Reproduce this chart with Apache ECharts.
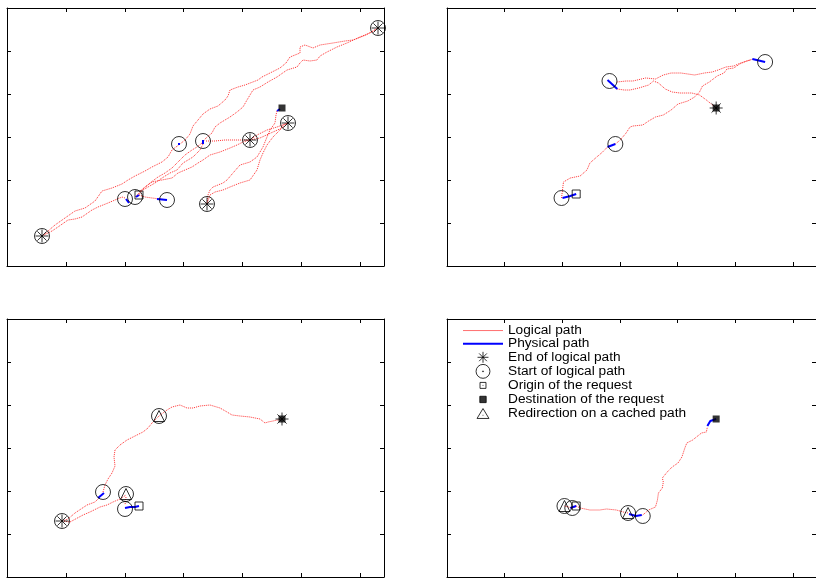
<!DOCTYPE html>
<html><head><meta charset="utf-8">
<script src="https://cdn.jsdelivr.net/npm/echarts@6/dist/echarts.min.js"></script>
<style>html,body{margin:0;padding:0;background:#fff}#c{width:816px;height:578px}</style>
</head><body><div id="c"></div>
<script>
// Axis extents (arbitrary position units, no tick labels in the original)
const xMax = 377, xStep = 58.9, yMax = 258, yStep = 43;

// ---------- Panel 1 (top-left) ----------
const p1Logical = [
 [[35,30],[41,35],[48,41],[58,48],[68,55],[78,58],[88,65],[95,75],[105,78],[115,82],[121,86],[128,90],[138,95],[145,99],[155,104],[161,109],[165,116],[173,122],[178,126],[183,132],[186,140],[191,146],[196,152],[203,157],[211,160],[218,166],[221,170],[223,176],[231,179],[238,181],[251,186],[255,189],[263,193],[273,198],[279,203],[283,209],[293,213],[293,219],[298,221],[306,218],[313,221],[326,223],[338,225],[346,226],[359,231],[371,238]],
 [[371,238],[365,234],[353,229],[340,223],[330,219],[320,214],[313,210],[310,206],[303,205],[296,206],[293,203],[290,199],[280,196],[270,189],[261,184],[253,179],[246,176],[240,166],[236,159],[230,154],[223,149],[213,143],[208,139],[205,133],[199,128],[195,123],[190,119],[185,116],[178,111],[171,104],[165,98],[158,93],[151,89],[143,83],[135,76],[132,71]],
 [[35,30],[45,35],[51,39],[61,46],[68,47],[75,49],[85,56],[91,59],[101,63],[108,66],[115,69],[118,68]],
 [[243,126],[236,124],[230,121],[223,118],[213,114],[203,111],[196,106],[191,103],[185,99],[178,96],[171,93],[165,88],[155,86],[145,84],[138,79],[132,74]],
 [[196,122],[193,116],[186,109],[176,103],[170,96],[163,93],[155,88],[148,83],[141,79],[133,74],[128,69]],
 [[199,125],[208,125],[218,126],[228,126],[236,126],[243,126]],
 [[243,126],[250,131],[260,136],[270,139],[281,143]],
 [[243,126],[253,128],[266,134],[275,138],[281,143]],
 [[270,155],[269,151],[268,143],[263,136],[260,129],[256,119],[250,109],[243,104],[233,101],[226,93],[220,86],[216,83],[206,79],[203,76],[201,71],[200,62]],
 [[281,143],[276,141],[273,136],[266,129],[260,121],[256,113],[253,106],[250,96],[243,86],[233,83],[223,79],[216,76],[208,74],[203,71],[200,62]],
 [[132,71],[138,69],[145,68],[153,67],[160,66]]
];
const p1Physical = [[[119,67],[122,63]],[[129,69],[132,71]],[[150,67],[160,66]],[[171,122],[173,122]],[[196,126],[196,122]],[[270,155],[273,157]]];
const p1End = [[35,30],[371,238],[243,126],[281,143],[200,62]];
const p1Start = [[118,67],[128,69],[160,66],[172,122],[196,125],[35,30],[371,238],[243,126],[281,143],[200,62]];
const p1Origin = [[132,71]];
const p1Dest = [[275,158]];
const p1Redirect = [];

// ---------- Panel 2 (top-right) ----------
const p2Logical = [
 [[117,68],[118,76],[119,84],[126,88],[136,90],[143,96],[146,103],[153,109],[159,114],[164,119]],
 [[172,122],[177,126],[183,133],[187,139],[190,140],[200,141],[206,145],[213,149],[221,151],[229,156],[236,162],[246,165],[253,169],[258,174],[261,180],[268,184],[276,190],[283,193],[286,197],[293,198],[299,202],[306,205],[313,207]],
 [[174,184],[183,185],[190,185],[203,188],[213,187],[221,191],[229,193],[239,193],[253,191],[263,193],[271,194],[277,196],[285,199],[293,200],[300,203],[310,206]],
 [[174,177],[181,176],[187,176],[196,178],[206,181],[211,185],[216,183],[223,177],[230,174],[238,173],[250,173],[258,171],[265,166],[270,162],[275,158]]
];
const p2Physical = [[[164,186],[174,177]],[[312,207],[325,204]],[[164,119],[172,122]],[[118,68],[126,70],[132,72]]];
const p2End = [[275,158]];
const p2Start = [[166,185],[325,204],[172,122],[117,68]];
const p2Origin = [[132,72]];
const p2Dest = [[275,158]];
const p2Redirect = [];

// ---------- Panel 3 (bottom-left) ----------
const p3Logical = [
 [[55,56],[61,58],[68,64],[70,65],[80,72],[88,75],[93,80]],
 [[55,56],[63,55],[76,62],[83,65],[93,70],[100,72],[106,75],[113,78],[119,82]],
 [[96,85],[98,92],[101,98],[105,104],[108,111],[107,120],[108,127],[113,132],[120,137],[130,142],[136,145],[141,149],[145,154],[148,157],[152,161],[160,167],[165,170],[173,172],[180,169],[186,169],[193,171],[203,172],[213,169],[220,165],[225,162],[233,161],[243,160],[253,158],[258,154],[261,155],[266,156],[275,158]],
 [[119,80],[118,72]]
];
const p3Physical = [[[91,79],[97,84]],[[118,69],[123,70],[128,70],[132,71]]];
const p3End = [[55,56],[275,158]];
const p3Start = [[55,56],[96,85],[119,83],[118,68],[152,161]];
const p3Origin = [[132,71]];
const p3Dest = [[275,158]];
const p3Redirect = [[119,83],[152,161]];

// ---------- Panel 4 (bottom-right) ----------
const p4Logical = [
 [[120,71],[128,69],[132,71]],
 [[132,71],[136,69],[146,67],[156,67],[163,68],[173,67],[180,65],[185,64]],
 [[200,62],[206,67],[213,70],[215,77],[216,84],[220,89],[221,95],[220,99],[225,105],[230,110],[236,114],[240,120],[243,129],[245,134],[251,137],[260,144],[265,145],[266,150]]
];
const p4Physical = [[[126,69],[132,71]],[[186,63],[193,61],[199,62]],[[266,151],[269,156],[275,158]]];
const p4End = [];
const p4Start = [[120,71],[128,69],[185,64],[200,61]];
const p4Origin = [[132,71]];
const p4Dest = [[275,158]];
const p4Redirect = [[120,71],[185,64]];

const legendNames = ['Logical path','Physical path','End of logical path','Start of logical path','Origin of the request','Destination of the request','Redirection on a cached path'];

const panels = [
 {logical:p1Logical, physical:p1Physical, end:p1End, start:p1Start, origin:p1Origin, dest:p1Dest, redirect:p1Redirect},
 {logical:p2Logical, physical:p2Physical, end:p2End, start:p2Start, origin:p2Origin, dest:p2Dest, redirect:p2Redirect},
 {logical:p3Logical, physical:p3Physical, end:p3End, start:p3Start, origin:p3Origin, dest:p3Dest, redirect:p3Redirect},
 {logical:p4Logical, physical:p4Physical, end:p4End, start:p4Start, origin:p4Origin, dest:p4Dest, redirect:p4Redirect}
];

const grids = [
 {left:7, top:8, width:377, height:258},
 {left:447, top:8, width:377, height:258},
 {left:7, top:319, width:377, height:258},
 {left:447, top:319, width:377, height:258}
];

const RED = '#ff3030', BLUE = '#0000ff';
const ASTERISK = 'path://M5,0L5,10M0,5L10,5M1.46,1.46L8.54,8.54M8.54,1.46L1.46,8.54';
const icons = {
 end: 'path://M0,0M14,14M7,1.5L7,12.5M1.5,7L12.5,7M3.1,3.1L10.9,10.9M10.9,3.1L3.1,10.9',
 start: 'path://M14,7A7,7,0,1,1,0,7A7,7,0,1,1,14,7ZM7.5,7A0.5,0.5,0,1,1,6.5,7A0.5,0.5,0,1,1,7.5,7Z',
 origin: 'path://M0,0M14,14M4,4L10,4L10,10L4,10ZM6.6,7L7.4,7',
 dest: 'path://M0,0M14,14M3.8,3.8L10.2,3.8L10.2,10.2L3.8,10.2Z',
 redirect: 'path://M0,0M14,14M7,2L13,12L1,12ZM6.6,8.8L7.4,8.8'
};

const xAxes = [], yAxes = [], series = [];
function axisBase(max, step){
 return {type:'value', min:0, max:max, interval:step, axisLabel:{show:false}, splitLine:{show:false},
   axisLine:{show:true, onZero:false, lineStyle:{color:'#000', width:1}},
   axisTick:{show:true, inside:true, length:4, lineStyle:{color:'#000', width:1}}};
}
grids.forEach((g, i) => {
 xAxes.push(Object.assign(axisBase(xMax, xStep), {gridIndex:i, position:'bottom'}));
 xAxes.push(Object.assign(axisBase(xMax, xStep), {gridIndex:i, position:'top'}));
 yAxes.push(Object.assign(axisBase(yMax, yStep), {gridIndex:i, position:'left'}));
 yAxes.push(Object.assign(axisBase(yMax, yStep), {gridIndex:i, position:'right'}));
});

const hollow = {color:'transparent', borderColor:'#000', borderWidth:1};
panels.forEach((p, i) => {
 const ax = {xAxisIndex:2*i, yAxisIndex:2*i};
 p.logical.forEach(pl => series.push(Object.assign({type:'line', name:legendNames[0], data:pl, symbol:'none', z:2,
   lineStyle:{color:RED, width:1, type:[1,1]}, itemStyle:{color:RED}}, ax)));
 p.physical.forEach(pl => series.push(Object.assign({type:'line', name:legendNames[1], data:pl, symbol:'none', z:3,
   lineStyle:{color:BLUE, width:2, type:'solid'}, itemStyle:{color:BLUE}}, ax)));
 series.push(Object.assign({type:'scatter', name:legendNames[2], data:p.end, symbol:ASTERISK, symbolSize:13, z:5, itemStyle:hollow}, ax));
 series.push(Object.assign({type:'scatter', name:legendNames[3], data:p.start, symbol:'circle', symbolSize:15, z:5, itemStyle:hollow}, ax));
 series.push(Object.assign({type:'scatter', name:legendNames[4], data:p.origin, symbol:'rect', symbolSize:8, z:5, itemStyle:hollow}, ax));
 series.push(Object.assign({type:'scatter', name:legendNames[5], data:p.dest, symbol:'rect', symbolSize:7, z:6, itemStyle:{color:'#000', borderColor:'#000', borderWidth:0}}, ax));
 series.push(Object.assign({type:'scatter', name:legendNames[6], data:p.redirect, symbol:'triangle', symbolSize:11, z:5, itemStyle:hollow}, ax));
});

const noSymbol = {color:'transparent', borderColor:'transparent', borderWidth:0, opacity:0};
const chart = echarts.init(document.getElementById('c'), null, {renderer:'canvas'});
chart.setOption({
 backgroundColor:'#fff',
 animation:false,
 grid:grids,
 xAxis:xAxes,
 yAxis:yAxes,
 legend:{
   orient:'vertical', left:462, top:323.55, padding:0, itemGap:-0.85, itemWidth:40, itemHeight:13.9,
   selectedMode:false,
   itemStyle:{borderWidth:1},
   textStyle:{fontFamily:'Liberation Sans, Arial, sans-serif', fontSize:13.7, lineHeight:13.9, color:'#000'},
   data:[
    {name:legendNames[0], itemStyle:noSymbol, lineStyle:{color:'#ff7070', width:1, type:'solid', opacity:1}},
    {name:legendNames[1], itemStyle:noSymbol, lineStyle:{color:BLUE, width:2, type:'solid', opacity:1}},
    {name:legendNames[2], icon:icons.end},
    {name:legendNames[3], icon:icons.start},
    {name:legendNames[4], icon:icons.origin},
    {name:legendNames[5], icon:icons.dest},
    {name:legendNames[6], icon:icons.redirect}
   ]
 },
 series:series
});
</script></body></html>
